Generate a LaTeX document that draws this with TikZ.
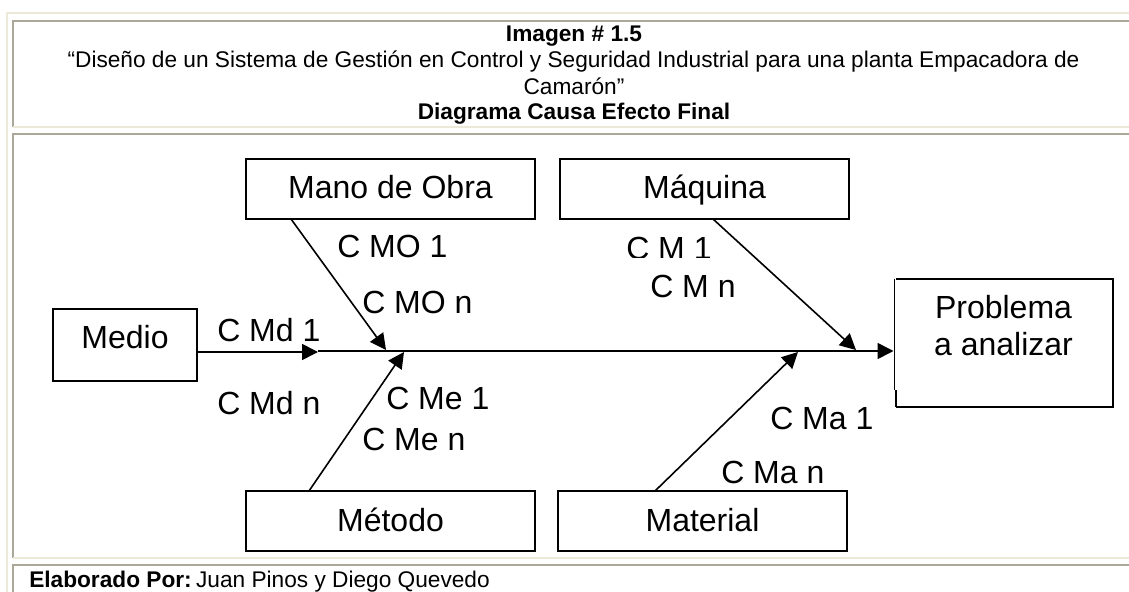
\documentclass[tikz,border=0pt]{standalone}
\usepackage{fontspec}
\setmainfont{Liberation Sans}
\usetikzlibrary{arrows.meta}
\definecolor{cream}{HTML}{ECE9D8}
\definecolor{graybd}{HTML}{ACA899}
\tikzset{
  x=0.75pt,y=-0.75pt,
  boxnode/.style={draw=black,line width=1.5pt,inner sep=0pt,font=\fontsize{24}{27.75}\selectfont,align=center},
  lab/.style={inner sep=0pt,font=\fontsize{24}{28}\selectfont,anchor=base west},
  conn/.style={line width=1.2pt,-{Triangle[length=12pt,width=12pt]}},
  head/.style={inner sep=0pt,font=\fontsize{17}{20}\selectfont,align=center},
  creamline/.style={draw=cream,line width=1.5pt},
  grayline/.style={draw=graybd,line width=1.5pt}
}
\begin{document}
\begin{tikzpicture}
\useasboundingbox (0,0) rectangle (1129,592);
\fill[white] (0,0) rectangle (1129,592);
% table frame
\draw[creamline] (1129,13.5) -- (7,13.5) -- (7,592);
\draw[grayline] (1129,21) -- (13,21) -- (13,127);
\draw[creamline] (13,127) -- (1129,127);
\draw[grayline] (1129,134.5) -- (13,134.5) -- (13,558);
\draw[creamline] (13,558) -- (1129,558);
\draw[grayline] (1129,565) -- (13,565) -- (13,592);
% heading
\node[head,anchor=base] (t1) at (574,42) {\textbf{Imagen \# 1.5}};
\node[head,anchor=base] (t2) at (573.5,68) {“Diseño de un Sistema de Gestión en Control y Seguridad Industrial para una planta Empacadora de};
\node[head,anchor=base] (t3) at (574,94.5) {Camarón”};
\node[head,anchor=base] (t4) at (574,120) {\textbf{Diagrama Causa Efecto Final}};
\node[head,anchor=base west] (credit) at (29,587) {\textbf{Elaborado Por:}\hspace{-3pt} Juan Pinos y Diego Quevedo};
% boxes
\node[boxnode,minimum width=216.75pt,text height=29.25pt,text depth=15.75pt] (mo) at (390.5,189) {Mano de Obra};
\node[boxnode,minimum width=216.75pt,text height=29.25pt,text depth=15.75pt] (maq) at (704.5,189) {Máquina};
\node[boxnode,minimum width=108pt,text height=29.25pt,text depth=24.75pt] (med) at (125,345) {Medio};
\node[boxnode,minimum width=216.75pt,text height=30pt,text depth=15pt] (met) at (390.5,521) {Método};
\node[boxnode,minimum width=216.75pt,text height=30pt,text depth=15pt] (mat) at (702.5,521) {Material};
\node[inner sep=0pt,font=\fontsize{24}{27.75}\selectfont,align=center,minimum width=163.5pt,minimum height=96pt] (prob) at (1003.5,343) {Problema\\a analizar\rule[-27pt]{0pt}{27pt}};
\draw[line width=1.5pt] (896,279) -- (1113,279) -- (1113,407) -- (896,407);
\draw[line width=0.8pt] (894.5,278.5) -- (894.5,390);
\draw[line width=0.8pt] (896,390) -- (896,407);
% connectors
\coordinate (s1) at (291,219);
\coordinate (s2) at (713,219);
\coordinate (s3) at (309,491);
\coordinate (s4) at (655,491);
\coordinate (e1) at (386,350);
\coordinate (e2) at (856,350);
\coordinate (e3) at (404,352);
\coordinate (e4) at (798,352);
\coordinate (a1) at (197,352);
\coordinate (a2) at (318,352);
\coordinate (b1) at (318,351);
\coordinate (b2) at (893.5,351);
\draw[conn] (a1) -- (a2);
\draw[conn] (b1) -- (b2);
\draw[conn] (s1) -- (e1);
\draw[conn] (s2) -- (e2);
\draw[conn] (s3) -- (e3);
\draw[conn] (s4) -- (e4);
% labels
\node[lab] (l1) at (337,257) {C MO 1};
\node[lab] (l2) at (362,313) {C MO n};
\begin{scope}
\clip (600,225) rectangle (720,257.5);
\node[lab] (l3) at (626,259) {C M 1};
\end{scope}
\node[lab] (l4) at (650,297) {C M n};
\node[lab] (l5) at (217,341) {C Md 1};
\node[lab] (l6) at (217,414) {C Md n};
\node[lab] (l7) at (386,409) {C Me 1};
\node[lab] (l8) at (362,450) {C Me n};
\node[lab] (l9) at (770,429) {C Ma 1};
\node[lab] (l10) at (721,483) {C Ma n};
\end{tikzpicture}
\end{document}
